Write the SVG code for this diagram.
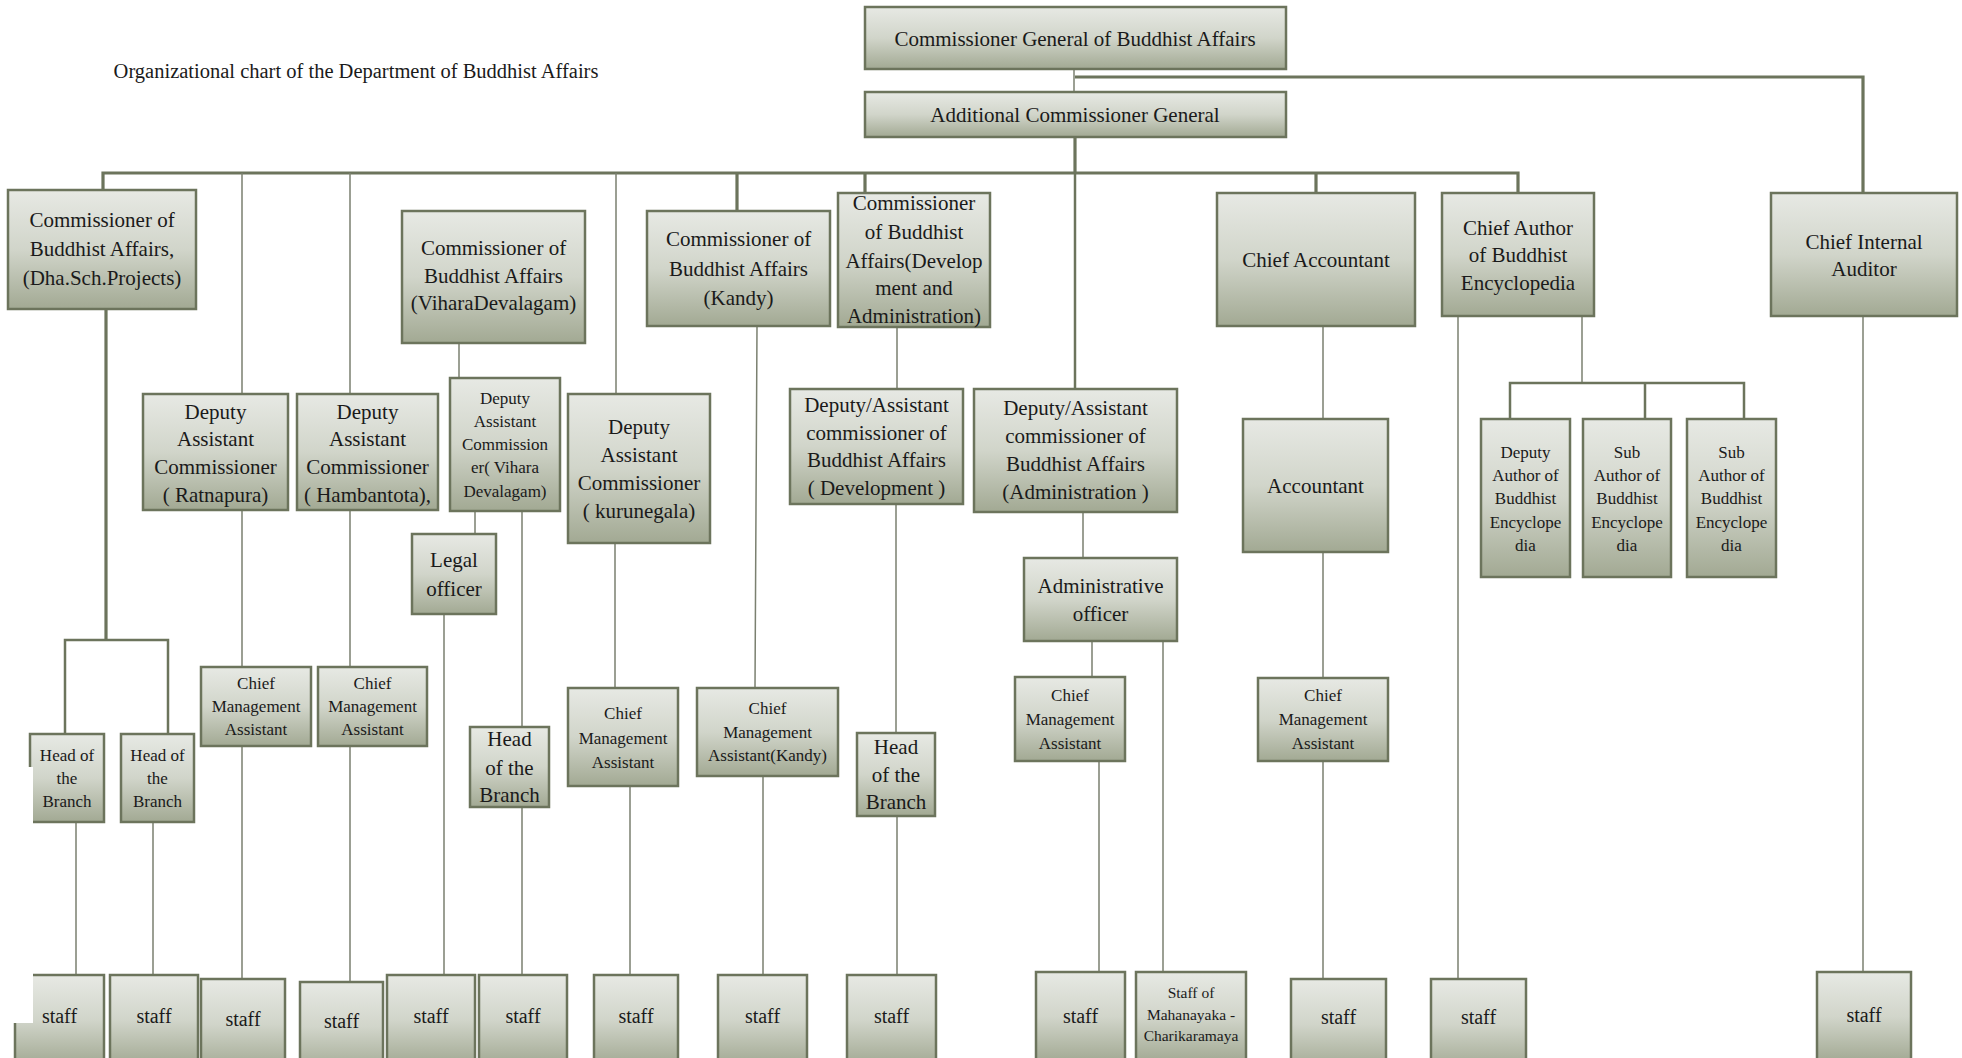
<svg xmlns="http://www.w3.org/2000/svg" width="1962" height="1058" viewBox="0 0 1962 1058">
<defs>
<linearGradient id="g" x1="0" y1="0" x2="0" y2="1">
<stop offset="0" stop-color="#e7e9e4"/>
<stop offset="0.5" stop-color="#d1d5ca"/>
<stop offset="1" stop-color="#a2a993"/>
</linearGradient>
<style>
.box{fill:url(#g);stroke:#6c745c;stroke-width:2.5}
text{font-family:"Liberation Serif","Times New Roman",serif;fill:#1a1a1a;text-anchor:middle}
.t21{font-size:21px}
.t17{font-size:17px}
.t15{font-size:15.5px}
.t20{font-size:20px}
.thin{fill:none;stroke:#7b8070;stroke-width:1.5}
.mid{fill:none;stroke:#6c745c;stroke-width:2.5}
.thick{fill:none;stroke:#6c745c;stroke-width:3.2}
</style>
</defs>
<rect width="1962" height="1058" fill="#ffffff"/>
<text x="356" y="78" style="font-size:20.5px">Organizational chart of the Department of Buddhist Affairs</text>

<g id="connectors">
<path class="thin" d="M1074 69V92"/>
<path class="thick" d="M1075 77H1863V193"/>
<path class="thick" d="M1075 137V173"/>
<path class="thick" d="M103 190V173H1518V193"/>
<path class="thick" d="M737 173V211M865 173V193M1316 173V193"/>
<path class="mid" d="M1075 173V389"/>
<path class="thin" d="M242 173V394M350 173V394M616 173V394"/>
<path class="thick" d="M106 309V640"/>
<path class="mid" d="M65 734V640H168V734"/>
<path class="thin" d="M76 822V975M153 822V975"/>
<path class="thin" d="M242 510V667M242 746V979"/>
<path class="thin" d="M350 510V667M350 746V982"/>
<path class="thin" d="M459 343V378"/>
<path class="thin" d="M475 511V534M444 614V975"/>
<path class="thin" d="M522 511V727M522 807V975"/>
<path class="thin" d="M615 543V688M630 786V975"/>
<path class="thin" d="M757 326L755 688M763 776V975"/>
<path class="thin" d="M897 327V389M896 504V733M897 816V975"/>
<path class="thin" d="M1083 512V558M1092 641V677M1099 761V972"/>
<path class="thin" d="M1163 635V972"/>
<path class="thin" d="M1323 326V419M1323 552V678M1323 761V979"/>
<path class="thin" d="M1458 316V979"/>
<path class="thin" d="M1582 316V383"/>
<path class="mid" d="M1510 419V383H1744V419M1645 383V419"/>
<path class="thin" d="M1863 316V972"/>
</g>

<g id="n-cg"><rect class="box" x="865" y="7" width="421" height="62"/><text class="t21" x="1075" y="46">Commissioner General of Buddhist Affairs</text></g>
<g id="n-acg"><rect class="box" x="865" y="92" width="421" height="45"/><text class="t21" x="1075" y="122">Additional Commissioner General</text></g>

<g id="n-dha"><rect class="box" x="8" y="190" width="188" height="119"/><text class="t21" x="102"><tspan x="102" y="227">Commissioner of</tspan><tspan x="102" y="256">Buddhist Affairs,</tspan><tspan x="102" y="285">(Dha.Sch.Projects)</tspan></text></g>
<g id="n-vihara"><rect class="box" x="402" y="211" width="183" height="132"/><text class="t21"><tspan x="493.5" y="255">Commissioner of</tspan><tspan x="493.5" y="283">Buddhist Affairs</tspan><tspan x="493.5" y="310">(ViharaDevalagam)</tspan></text></g>
<g id="n-kandy"><rect class="box" x="647" y="211" width="183" height="115"/><text class="t21"><tspan x="738.5" y="246">Commissioner of</tspan><tspan x="738.5" y="276">Buddhist Affairs</tspan><tspan x="738.5" y="305">(Kandy)</tspan></text></g>
<g id="n-devadmin"><rect class="box" x="838" y="193" width="152" height="134"/><text class="t21"><tspan x="914" y="210">Commissioner</tspan><tspan x="914" y="239">of Buddhist</tspan><tspan x="914" y="268">Affairs(Develop</tspan><tspan x="914" y="295">ment and</tspan><tspan x="914" y="323">Administration)</tspan></text></g>
<g id="n-chiefacct"><rect class="box" x="1217" y="193" width="198" height="133"/><text class="t21" x="1316" y="267">Chief Accountant</text></g>
<g id="n-chiefauthor"><rect class="box" x="1442" y="193" width="152" height="123"/><text class="t21"><tspan x="1518" y="235">Chief  Author</tspan><tspan x="1518" y="262">of Buddhist</tspan><tspan x="1518" y="290">Encyclopedia</tspan></text></g>
<g id="n-auditor"><rect class="box" x="1771" y="193" width="186" height="123"/><text class="t21"><tspan x="1864" y="249">Chief Internal</tspan><tspan x="1864" y="276">Auditor</tspan></text></g>

<g id="n-ratnapura"><rect class="box" x="143" y="394" width="145" height="116"/><text class="t21"><tspan x="215.5" y="419">Deputy</tspan><tspan x="215.5" y="446">Assistant</tspan><tspan x="215.5" y="474">Commissioner</tspan><tspan x="215.5" y="502">( Ratnapura)</tspan></text></g>
<g id="n-hambantota"><rect class="box" x="297" y="394" width="141" height="116"/><text class="t21"><tspan x="367.5" y="419">Deputy</tspan><tspan x="367.5" y="446">Assistant</tspan><tspan x="367.5" y="474">Commissioner</tspan><tspan x="367.5" y="502">( Hambantota),</tspan></text></g>
<g id="n-viharadep"><rect class="box" x="450" y="378" width="110" height="133"/><text class="t17"><tspan x="505" y="404">Deputy</tspan><tspan x="505" y="427">Assistant</tspan><tspan x="505" y="450">Commission</tspan><tspan x="505" y="473">er( Vihara</tspan><tspan x="505" y="497">Devalagam)</tspan></text></g>
<g id="n-legal"><rect class="box" x="412" y="534" width="84" height="80"/><text class="t21"><tspan x="454" y="567">Legal</tspan><tspan x="454" y="596">officer</tspan></text></g>
<g id="n-kurunegala"><rect class="box" x="568" y="394" width="142" height="149"/><text class="t21"><tspan x="639" y="434">Deputy</tspan><tspan x="639" y="462">Assistant</tspan><tspan x="639" y="490">Commissioner</tspan><tspan x="639" y="518">( kurunegala)</tspan></text></g>
<g id="n-dev"><rect class="box" x="790" y="389" width="173" height="115"/><text class="t21"><tspan x="876.5" y="412">Deputy/Assistant</tspan><tspan x="876.5" y="440">commissioner of</tspan><tspan x="876.5" y="467">Buddhist  Affairs</tspan><tspan x="876.5" y="495">( Development )</tspan></text></g>
<g id="n-admin"><rect class="box" x="974" y="389" width="203" height="123"/><text class="t21"><tspan x="1075.5" y="415">Deputy/Assistant</tspan><tspan x="1075.5" y="443">commissioner of</tspan><tspan x="1075.5" y="471">Buddhist  Affairs</tspan><tspan x="1075.5" y="499">(Administration )</tspan></text></g>
<g id="n-adminofficer"><rect class="box" x="1024" y="558" width="153" height="83"/><text class="t21"><tspan x="1100.5" y="593">Administrative</tspan><tspan x="1100.5" y="621">officer</tspan></text></g>
<g id="n-accountant"><rect class="box" x="1243" y="419" width="145" height="133"/><text class="t21" x="1315.5" y="493">Accountant</text></g>
<g id="n-depauthor"><rect class="box" x="1481" y="419" width="89" height="158"/><text class="t17"><tspan x="1525.5" y="458">Deputy</tspan><tspan x="1525.5" y="481">Author of</tspan><tspan x="1525.5" y="504">Buddhist</tspan><tspan x="1525.5" y="528">Encyclope</tspan><tspan x="1525.5" y="551">dia</tspan></text></g>
<g id="n-subauthor1"><rect class="box" x="1583" y="419" width="88" height="158"/><text class="t17"><tspan x="1627" y="458">Sub</tspan><tspan x="1627" y="481">Author of</tspan><tspan x="1627" y="504">Buddhist</tspan><tspan x="1627" y="528">Encyclope</tspan><tspan x="1627" y="551">dia</tspan></text></g>
<g id="n-subauthor2"><rect class="box" x="1687" y="419" width="89" height="158"/><text class="t17"><tspan x="1731.5" y="458">Sub</tspan><tspan x="1731.5" y="481">Author of</tspan><tspan x="1731.5" y="504">Buddhist</tspan><tspan x="1731.5" y="528">Encyclope</tspan><tspan x="1731.5" y="551">dia</tspan></text></g>

<g id="n-head1"><rect class="box" x="30" y="734" width="74" height="88"/><text class="t17"><tspan x="67" y="761">Head of</tspan><tspan x="67" y="784">the</tspan><tspan x="67" y="807">Branch</tspan></text></g>
<g id="n-head2"><rect class="box" x="121" y="734" width="73" height="88"/><text class="t17"><tspan x="157.5" y="761">Head of</tspan><tspan x="157.5" y="784">the</tspan><tspan x="157.5" y="807">Branch</tspan></text></g>
<g id="n-cma-r"><rect class="box" x="201" y="667" width="110" height="79"/><text class="t17"><tspan x="256" y="689">Chief</tspan><tspan x="256" y="712">Management</tspan><tspan x="256" y="735">Assistant</tspan></text></g>
<g id="n-cma-h"><rect class="box" x="318" y="667" width="109" height="79"/><text class="t17"><tspan x="372.5" y="689">Chief</tspan><tspan x="372.5" y="712">Management</tspan><tspan x="372.5" y="735">Assistant</tspan></text></g>
<g id="n-head-v"><rect class="box" x="470" y="727" width="79" height="80"/><text class="t21"><tspan x="509.5" y="746">Head</tspan><tspan x="509.5" y="775">of the</tspan><tspan x="509.5" y="802">Branch</tspan></text></g>
<g id="n-cma-k"><rect class="box" x="568" y="688" width="110" height="98"/><text class="t17"><tspan x="623" y="719">Chief</tspan><tspan x="623" y="744">Management</tspan><tspan x="623" y="768">Assistant</tspan></text></g>
<g id="n-cma-kandy"><rect class="box" x="697" y="688" width="141" height="88"/><text class="t17"><tspan x="767.5" y="714">Chief</tspan><tspan x="767.5" y="738">Management</tspan><tspan x="767.5" y="761">Assistant(Kandy)</tspan></text></g>
<g id="n-head-d"><rect class="box" x="857" y="733" width="78" height="83"/><text class="t21"><tspan x="896" y="754">Head</tspan><tspan x="896" y="782">of the</tspan><tspan x="896" y="809">Branch</tspan></text></g>
<g id="n-cma-a"><rect class="box" x="1015" y="677" width="110" height="84"/><text class="t17"><tspan x="1070" y="701">Chief</tspan><tspan x="1070" y="725">Management</tspan><tspan x="1070" y="749">Assistant</tspan></text></g>
<g id="n-cma-acct"><rect class="box" x="1258" y="678" width="130" height="83"/><text class="t17"><tspan x="1323" y="701">Chief</tspan><tspan x="1323" y="725">Management</tspan><tspan x="1323" y="749">Assistant</tspan></text></g>

<g id="n-s1"><rect class="box" x="15" y="975" width="89" height="90"/><text class="t20" x="59.5" y="1023">staff</text></g>
<g id="n-s2"><rect class="box" x="110" y="975" width="88" height="90"/><text class="t20" x="154" y="1023">staff</text></g>
<g id="n-s3"><rect class="box" x="201" y="979" width="84" height="90"/><text class="t20" x="243" y="1026">staff</text></g>
<g id="n-s4"><rect class="box" x="300" y="982" width="83" height="90"/><text class="t20" x="341.5" y="1028">staff</text></g>
<g id="n-s5"><rect class="box" x="387" y="975" width="88" height="90"/><text class="t20" x="431" y="1023">staff</text></g>
<g id="n-s6"><rect class="box" x="479" y="975" width="88" height="90"/><text class="t20" x="523" y="1023">staff</text></g>
<g id="n-s7"><rect class="box" x="594" y="975" width="84" height="90"/><text class="t20" x="636" y="1023">staff</text></g>
<g id="n-s8"><rect class="box" x="718" y="975" width="89" height="90"/><text class="t20" x="762.5" y="1023">staff</text></g>
<g id="n-s9"><rect class="box" x="847" y="975" width="89" height="90"/><text class="t20" x="891.5" y="1023">staff</text></g>
<g id="n-s10"><rect class="box" x="1036" y="972" width="89" height="90"/><text class="t20" x="1080.5" y="1023">staff</text></g>
<g id="n-mahanayaka"><rect class="box" x="1136" y="972" width="110" height="90"/><text class="t15"><tspan x="1191" y="998">Staff of</tspan><tspan x="1191" y="1020">Mahanayaka  -</tspan><tspan x="1191" y="1041">Charikaramaya</tspan></text></g>
<g id="n-s11"><rect class="box" x="1291" y="979" width="95" height="90"/><text class="t20" x="1338.5" y="1024">staff</text></g>
<g id="n-s12"><rect class="box" x="1431" y="979" width="95" height="90"/><text class="t20" x="1478.5" y="1024">staff</text></g>
<g id="n-s13"><rect class="box" x="1817" y="972" width="94" height="90"/><text class="t20" x="1864" y="1022">staff</text></g>

<rect x="0" y="767" width="33" height="256" fill="#ffffff"/>
</svg>
